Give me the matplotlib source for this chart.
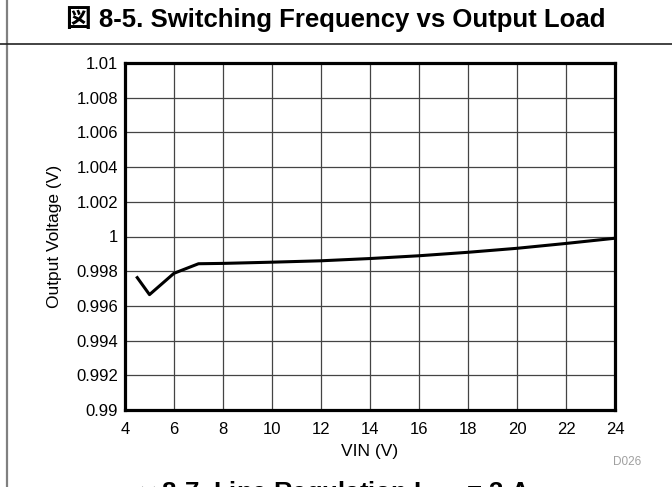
import matplotlib
matplotlib.use("Agg")
import matplotlib.pyplot as plt
from matplotlib.lines import Line2D

plt.rcParams['font.family'] = ['Liberation Sans', 'Noto Sans CJK JP', 'DejaVu Sans']

# données
vin = [4.5, 5, 6, 7, 8, 10, 12, 14, 16, 18, 20, 22, 24]
vout = [0.99763, 0.99665, 0.99788, 0.99843, 0.99845, 0.99852, 0.99860, 0.99873,
        0.99889, 0.99909, 0.99932, 0.99960, 0.99990]
xticks = [4, 6, 8, 10, 12, 14, 16, 18, 20, 22, 24]
yticks = [0.99, 0.992, 0.994, 0.996, 0.998, 1.0, 1.002, 1.004, 1.006, 1.008, 1.01]
ylabels = ["0.99", "0.992", "0.994", "0.996", "0.998", "1", "1.002", "1.004",
           "1.006", "1.008", "1.01"]

W, H = 672, 487
fig = plt.figure(figsize=(W / 100, H / 100), dpi=100)
ax = fig.add_axes([125 / W, 1 - 410 / H, (615 - 125) / W, (410 - 63) / H])

ax.plot(vin, vout, color='black', lw=2.2, zorder=3)

ax.set_xlim(4, 24)
ax.set_ylim(0.99, 1.01)
ax.set_xticks(xticks)
ax.set_yticks(yticks)
ax.set_yticklabels(ylabels)
ax.tick_params(length=0, labelsize=12)
ax.tick_params(axis='y', pad=5)
ax.tick_params(axis='x', pad=9)
ax.grid(True, color='#444444', lw=0.9)
for s in ax.spines.values():
    s.set_linewidth(2.3)
ax.set_xlabel("VIN (V)", fontsize=12.5, labelpad=5)
ax.set_ylabel("Output Voltage (V)", fontsize=12.5, labelpad=10)

# cadre de la page
fig.add_artist(Line2D([7 / W, 7 / W], [0, 1], color='#808080', lw=1.6))
fig.add_artist(Line2D([0, 1], [1 - 43.5 / H, 1 - 43.5 / H], color='#222222', lw=1.2))

fig.text(336 / W, 1 - 27 / H, "図 8-5. Switching Frequency vs Output Load",
         ha='center', va='baseline', fontsize=18.5, fontweight='bold')
fig.text(627 / W, 1 - 462 / H, "D026", ha='center', va='center',
         fontsize=8.5, color='#a0a0a0')
fig.text(336 / W, 1 - 500 / H, "図 8-7. Line Regulation I$_{\\mathregular{OUT}}$ = 3 A",
         ha='center', va='baseline', fontsize=18.5, fontweight='bold')

fig.savefig("out.png", dpi=100)
